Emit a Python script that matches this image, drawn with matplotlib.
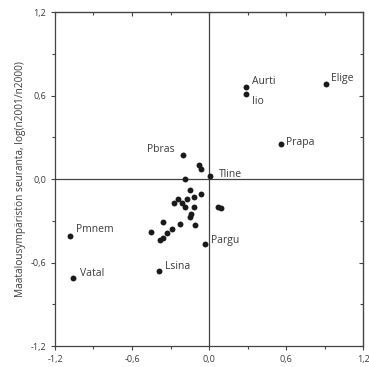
import matplotlib
matplotlib.use("Agg")
import matplotlib.pyplot as plt
from matplotlib.ticker import MultipleLocator, FuncFormatter

# labelled species
names = ["Aurti", "Iio", "Elige", "Prapa", "Pbras", "Tline", "Pmnem", "Pargu", "Vatal", "Lsina"]
name_x = [0.29, 0.29, 0.91, 0.56, -0.20, 0.01, -1.08, -0.03, -1.06, -0.39]
name_y = [0.66, 0.61, 0.68, 0.25, 0.17, 0.02, -0.41, -0.47, -0.71, -0.66]

# unlabelled species
other_x = [-0.08, -0.06, -0.19, -0.15, -0.06, -0.12, -0.17, -0.24, -0.27, -0.21, -0.19,
           -0.12, -0.14, -0.15, 0.07, 0.09, -0.36, -0.23, -0.11, -0.29, -0.45, -0.33,
           -0.36, -0.38]
other_y = [0.10, 0.07, 0.00, -0.08, -0.11, -0.13, -0.14, -0.14, -0.17, -0.17, -0.20,
           -0.20, -0.25, -0.27, -0.20, -0.21, -0.31, -0.32, -0.33, -0.36, -0.38, -0.39,
           -0.42, -0.44]

# label offsets in points
offsets = {"Aurti": (4, 4), "Iio": (4, -5), "Elige": (4, 4), "Prapa": (4, 1),
           "Pbras": (-26, 4), "Tline": (6, 1), "Pmnem": (4, 5), "Pargu": (4, 3),
           "Vatal": (5, 3), "Lsina": (4, 3)}

txt = "#3a3a3a"
plt.rcParams["font.family"] = ["Open Sans", "DejaVu Sans"]

fig = plt.figure(figsize=(3.69, 3.67), dpi=100)
ax = fig.add_axes([0.149, 0.057, 0.835, 0.910])

ax.scatter(other_x, other_y, s=18, color="#1a1a1a", zorder=3, linewidths=0)
ax.scatter(name_x, name_y, s=18, color="#1a1a1a", zorder=3, linewidths=0)
for n, x, y in zip(names, name_x, name_y):
    ax.annotate(n, (x, y), xytext=offsets[n], textcoords="offset points",
                fontsize=7.5, color=txt, va="center", ha="left")

ax.axhline(0, color="#444444", lw=0.9, zorder=1)
ax.axvline(0, color="#444444", lw=0.9, zorder=1)

fmt = FuncFormatter(lambda v, p: ("%.1f" % v).replace(".", ",").replace("-0,0", "0,0"))
ax.set_xlim(-1.2, 1.2)
ax.set_ylim(-1.2, 1.2)
for a in (ax.xaxis, ax.yaxis):
    a.set_major_locator(MultipleLocator(0.6))
    a.set_minor_locator(MultipleLocator(0.3))
    a.set_major_formatter(fmt)
ax.tick_params(which="both", direction="out", labelsize=6.5, colors="#444444",
               labelcolor=txt, width=0.8)
ax.tick_params(which="major", length=3)
ax.tick_params(which="minor", length=2)

# inward ticks on top and right
top = ax.secondary_xaxis("top")
right = ax.secondary_yaxis("right")
for sec, a in ((top, top.xaxis), (right, right.yaxis)):
    a.set_major_locator(MultipleLocator(0.6))
    a.set_minor_locator(MultipleLocator(0.3))
    sec.tick_params(which="both", direction="in", labelleft=False, labelright=False,
                    labeltop=False, labelbottom=False, colors="#444444", width=0.8)
    sec.tick_params(which="major", length=3)
    sec.tick_params(which="minor", length=2)

for sp in ax.spines.values():
    sp.set_color("#444444")
    sp.set_linewidth(0.9)

ax.set_ylabel("Maatalousympäristön seuranta, log(n2001/n2000)", fontsize=7.3, color=txt, labelpad=3)

fig.savefig("out.png", dpi=100)
